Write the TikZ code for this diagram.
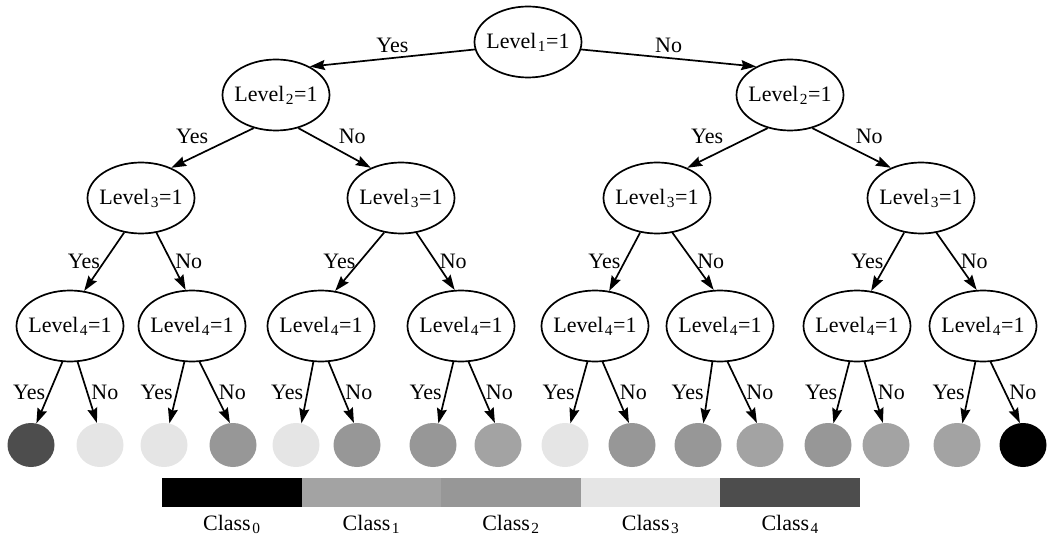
\documentclass[tikz,border=0pt]{standalone}
\usepackage{fontspec}
\setmainfont{Liberation Serif}
\usepackage{tikz}
\usetikzlibrary{arrows.meta,shapes.geometric}

\definecolor{cls0}{HTML}{000000}
\definecolor{cls1}{HTML}{A3A3A3}
\definecolor{cls2}{HTML}{979797}
\definecolor{cls3}{HTML}{E5E5E5}
\definecolor{cls4}{HTML}{4D4D4D}

\tikzset{
    test/.style={draw, ellipse, line width=1.7pt, minimum width=107pt, minimum height=71pt, inner xsep=-6pt, inner ysep=0pt},
    leaf/.style={ellipse, minimum width=47pt, minimum height=44pt, inner sep=0pt},
    arr/.style={line width=1.7pt, -{Stealth[length=15pt, width=10pt, inset=2pt]}},
    bar/.style={rectangle, minimum width=139.6pt, minimum height=29pt, inner sep=0pt}
}

\newcommand{\lev}[1]{Level\kern1.5pt\textsubscript{#1}=1}

\begin{document}
\begin{tikzpicture}[x=1pt, y=-1pt, font=\fontsize{22}{25}\selectfont]
    \useasboundingbox (0,0) rectangle (1047,540);

    % Tests
    \node[test] (l1) at (528,42) {\lev{1}};
    \node[test] (l2a) at (276,95) {\lev{2}};
    \node[test] (l2b) at (790,95) {\lev{2}};
    \foreach \x [count=\i] in {141,401,657,921}
        \node[test] (l3-\i) at (\x,198) {\lev{3}};
    \foreach \x [count=\i] in {70,192,321,461,595,720,857,983}
        \node[test] (l4-\i) at (\x,326) {\lev{4}};

    % Leaves
    \foreach \x/\c [count=\i] in {31/cls4,100/cls3,164/cls3,233/cls2,296/cls3,357/cls2,433/cls2,498/cls1,
                                  565/cls3,632/cls2,698/cls2,760/cls1,828/cls2,886/cls1,957/cls1,1023/cls0}
        \node[leaf, fill=\c] (leaf\i) at (\x,445) {};

    % Level 1 -> level 2
    \draw[arr] (l1.188) -- node[midway, above=1pt] {Yes} (l2a.40);
    \draw[arr] (l1.352) -- node[midway, above=1pt] {No} (l2b.140);

    % Level 2 -> level 3
    \draw[arr] (l2a.236) -- node[midway, above left] {Yes} (l3-1.45);
    \draw[arr] (l2a.304) -- node[midway, above right] {No} (l3-2.135);
    \draw[arr] (l2b.236) -- node[midway, above left] {Yes} (l3-3.45);
    \draw[arr] (l2b.304) -- node[midway, above right] {No} (l3-4.135);

    % Level 3 -> level 4
    \foreach \i in {1,...,4} {
        \pgfmathtruncatemacro{\a}{2*\i-1}
        \pgfmathtruncatemacro{\b}{2*\i}
        \draw[arr] (l3-\i.244) -- node[midway, left] {Yes} (l4-\a.68);
        \draw[arr] (l3-\i.294) -- node[midway, right] {No} (l4-\b.100);
    }

    % Level 4 -> leaves
    \foreach \i in {1,...,8} {
        \pgfmathtruncatemacro{\a}{2*\i-1}
        \pgfmathtruncatemacro{\b}{2*\i}
        \draw[arr] (l4-\i.258) -- node[midway, left] {Yes} (leaf\a.76);
        \draw[arr] (l4-\i.282) -- node[midway, right] {No} (leaf\b.98);
    }

    % Colour bar
    \foreach \c [count=\i from 0] in {cls0,cls1,cls2,cls3,cls4} {
        \node[bar, fill=\c] (bar\i) at ({231.8+139.6*\i},492.5) {};
        \node (cls\i) at ({231.8+139.6*\i},524) {Class\kern1.5pt\textsubscript{\i}};
    }
\end{tikzpicture}
\end{document}
